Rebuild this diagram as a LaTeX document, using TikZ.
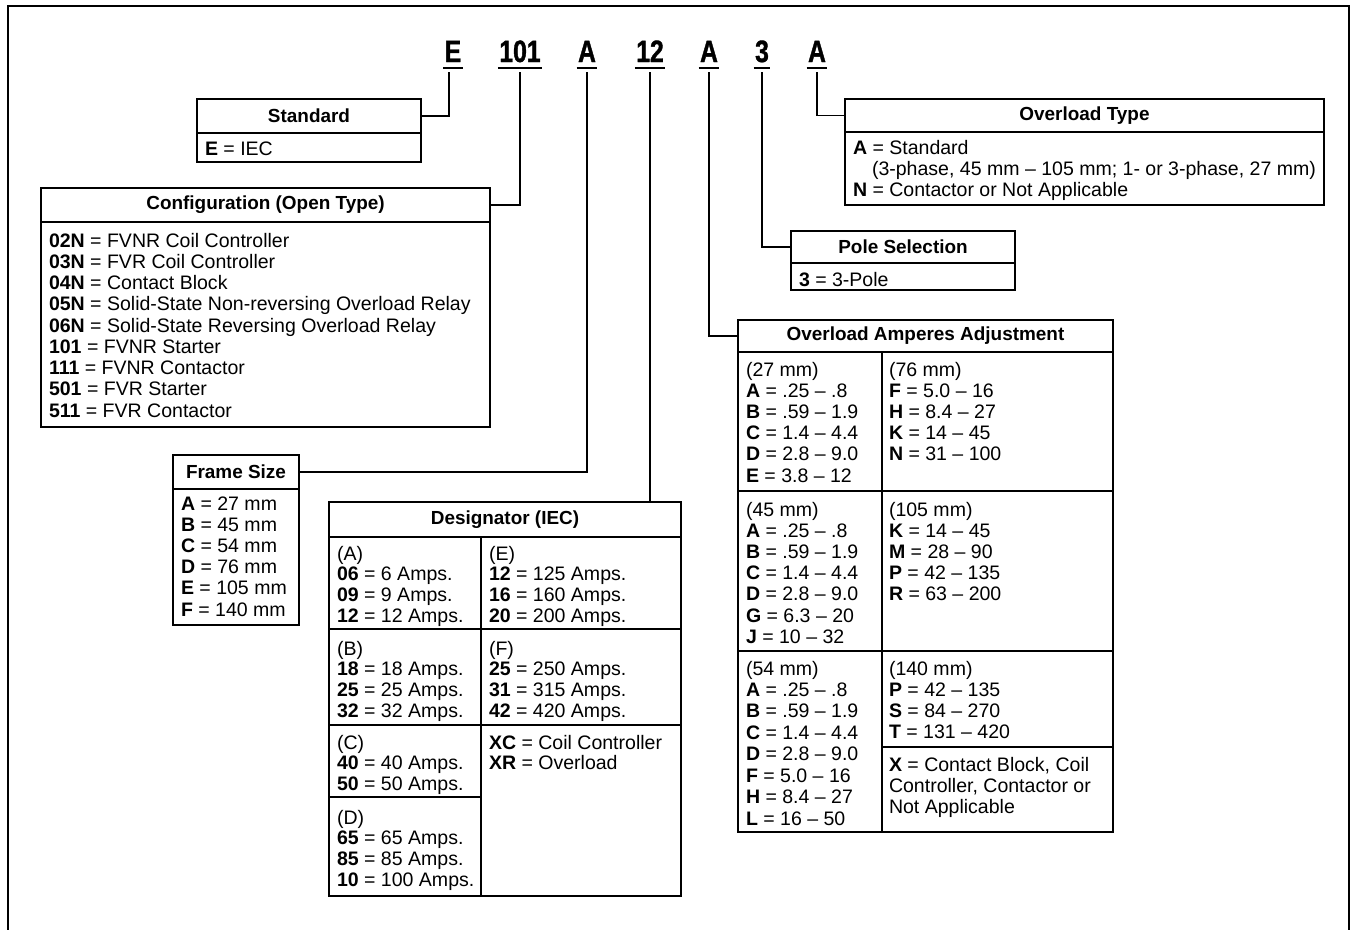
\documentclass[tikz,border=0pt]{standalone}
\usepackage{fontspec}
\setmainfont{Liberation Sans}
\newfontfamily\codefont[FakeStretch=0.8,BoldFeatures={FakeBold=1.2}]{Liberation Sans}
\usetikzlibrary{calc}
\tikzset{
  frameline/.style={line width=2bp},
  bx/.style={draw, line width=1.4bp, inner sep=0pt, outer sep=0pt, anchor=north west},
  hdr/.style={bx, font=\bfseries\fontsize{19}{21}\selectfont},
  txt/.style={inner sep=0pt, outer sep=0pt, anchor=base west, font=\fontsize{19.6}{21}\selectfont},
  codetxt/.style={inner sep=0pt, outer sep=0pt, anchor=base, font=\codefont\bfseries\fontsize{31}{31}\selectfont},
  uline/.style={line width=2.6bp},
  conn/.style={line width=1.3bp},
  divl/.style={line width=1.4bp},
}
\newcommand\txtlines[5]{%
  \foreach \t [count=\i] in {#5} {
    \node[txt] (#1-\i) at (#2, {#3+(\i-1)*#4}) {\t};
  }}
\begin{document}
\begin{tikzpicture}[x=1bp,y=-1bp]
\useasboundingbox (0,0) rectangle (1356,929);
% outer frame
\draw[frameline] (8,940) -- (8,6) -- (1349,6) -- (1349,940);

% code letters
\node[codetxt] (cE)   at (453,62) {E};
\node[codetxt] (c101) at (520,62) {101};
\node[codetxt] (cA1)  at (587,62) {A};
\node[codetxt] (c12)  at (650,62) {12};
\node[codetxt] (cA2)  at (709,62) {A};
\node[codetxt] (c3)   at (762,62) {3};
\node[codetxt] (cA3)  at (817,62) {A};
\foreach \n in {cE,c101,cA1,c12,cA2,c3,cA3}{
  \draw[uline] ($(\n.base west)+(-1.5,6)$) -- ($(\n.base east)+(1.5,6)$);
}

% Standard
\node[hdr, minimum width=224bp, minimum height=34bp] (stdH) at (197,99) {Standard};
\node[bx, minimum width=224bp, minimum height=29bp] (stdB) at (stdH.south west) {};
\txtlines{std}{205}{155}{21.25}{{\textbf{E} = IEC}}

% Configuration
\node[hdr, minimum width=449bp, minimum height=34bp] (cfgH) at (41,188) {Configuration (Open Type)};
\node[bx, minimum width=449bp, minimum height=205bp] (cfgB) at (cfgH.south west) {};
\txtlines{cfg}{49}{247}{21.25}{{\textbf{02N} = FVNR Coil Controller},{\textbf{03N} = FVR Coil Controller},{\textbf{04N} = Contact Block},{\textbf{05N} = Solid-State Non-reversing Overload Relay},{\textbf{06N} = Solid-State Reversing Overload Relay},{\textbf{101} = FVNR Starter},{\textbf{111} = FVNR Contactor},{\textbf{501} = FVR Starter},{\textbf{511} = FVR Contactor}}

% Frame Size
\node[hdr, minimum width=126bp, minimum height=34bp] (frmH) at (173,455) {Frame Size};
\node[bx, minimum width=126bp, minimum height=136bp] (frmB) at (frmH.south west) {};
\txtlines{frm}{181}{510}{21.2}{{\textbf{A} = 27 mm},{\textbf{B} = 45 mm},{\textbf{C} = 54 mm},{\textbf{D} = 76 mm},{\textbf{E} = 105 mm},{\textbf{F} = 140 mm}}

% Designator
\node[hdr, minimum width=352bp, minimum height=35bp] (desH) at (329,502) {Designator (IEC)};
\node[bx, minimum width=352bp, minimum height=359bp] (desB) at (desH.south west) {};
\draw[divl] (481,537) -- (481,896);
\draw[divl] (329,629) -- (681,629);
\draw[divl] (329,725) -- (681,725);
\draw[divl] (329,797) -- (481,797);
\txtlines{desA}{337}{560}{20.7}{(A),{\textbf{06} = 6 Amps.},{\textbf{09} = 9 Amps.},{\textbf{12} = 12 Amps.}}
\txtlines{desB}{337}{655}{20.7}{(B),{\textbf{18} = 18 Amps.},{\textbf{25} = 25 Amps.},{\textbf{32} = 32 Amps.}}
\txtlines{desC}{337}{749}{20.7}{(C),{\textbf{40} = 40 Amps.},{\textbf{50} = 50 Amps.}}
\txtlines{desD}{337}{824}{20.7}{(D),{\textbf{65} = 65 Amps.},{\textbf{85} = 85 Amps.},{\textbf{10} = 100 Amps.}}
\txtlines{desE}{489}{560}{20.7}{(E),{\textbf{12} = 125 Amps.},{\textbf{16} = 160 Amps.},{\textbf{20} = 200 Amps.}}
\txtlines{desF}{489}{655}{20.7}{(F),{\textbf{25} = 250 Amps.},{\textbf{31} = 315 Amps.},{\textbf{42} = 420 Amps.}}
\txtlines{desX}{489}{749}{20.7}{{\textbf{XC} = Coil Controller},{\textbf{XR} = Overload}}

% Overload Amperes Adjustment
\node[hdr, minimum width=375bp, minimum height=32bp] (oaaH) at (738,320) {Overload Amperes Adjustment};
\node[bx, minimum width=375bp, minimum height=480bp] (oaaB) at (oaaH.south west) {};
\draw[divl] (882,352) -- (882,832);
\draw[divl] (738,491) -- (1113,491);
\draw[divl] (738,651) -- (1113,651);
\draw[divl] (882,747) -- (1113,747);
\txtlines{oa27}{746}{376}{21.2}{(27 mm),{\textbf{A} = .25 – .8},{\textbf{B} = .59 – 1.9},{\textbf{C} = 1.4 – 4.4},{\textbf{D} = 2.8 – 9.0},{\textbf{E} = 3.8 – 12}}
\txtlines{oa45}{746}{516}{21.2}{(45 mm),{\textbf{A} = .25 – .8},{\textbf{B} = .59 – 1.9},{\textbf{C} = 1.4 – 4.4},{\textbf{D} = 2.8 – 9.0},{\textbf{G} = 6.3 – 20},{\textbf{J} = 10 – 32}}
\txtlines{oa54}{746}{675}{21.45}{(54 mm),{\textbf{A} = .25 – .8},{\textbf{B} = .59 – 1.9},{\textbf{C} = 1.4 – 4.4},{\textbf{D} = 2.8 – 9.0},{\textbf{F} = 5.0 – 16},{\textbf{H} = 8.4 – 27},{\textbf{L} = 16 – 50}}
\txtlines{oa76}{889}{376}{21.2}{(76 mm),{\textbf{F} = 5.0 – 16},{\textbf{H} = 8.4 – 27},{\textbf{K} = 14 – 45},{\textbf{N} = 31 – 100}}
\txtlines{oa105}{889}{516}{21.2}{(105 mm),{\textbf{K} = 14 – 45},{\textbf{M} = 28 – 90},{\textbf{P} = 42 – 135},{\textbf{R} = 63 – 200}}
\txtlines{oa140}{889}{675}{21.2}{(140 mm),{\textbf{P} = 42 – 135},{\textbf{S} = 84 – 270},{\textbf{T} = 131 – 420}}
\txtlines{oaX}{889}{771}{21.4}{{\textbf{X} = Contact Block, Coil},{Controller, Contactor or},{Not Applicable}}

% Overload Type
\node[hdr, minimum width=479bp, minimum height=33bp] (otH) at (845,99) {Overload Type};
\node[bx, minimum width=479bp, minimum height=73bp] (otB) at (otH.south west) {};
\txtlines{otA}{853}{154}{21.25}{{\textbf{A} = Standard}}
\txtlines{otS}{872}{175}{21.25}{{(3-phase, 45 mm – 105 mm; 1- or 3-phase, 27 mm)}}
\txtlines{otN}{853}{196}{21.25}{{\textbf{N} = Contactor or Not Applicable}}

% Pole Selection
\node[hdr, minimum width=224bp, minimum height=32bp] (polH) at (791,231) {Pole Selection};
\node[bx, minimum width=224bp, minimum height=27bp] (polB) at (polH.south west) {};
\txtlines{pol}{799}{286}{21.25}{{\textbf{3} = 3-Pole}}

% connectors
\draw[conn] ($(cE.base)+(-4,10)$) |- (stdH.east);
\draw[conn] ($(c101.base)+(0,10)$) |- (cfgH.east);
\draw[conn] ($(cA1.base)+(0,10)$) |- (frmH.east);
\draw[conn] ($(c12.base)+(0,10)$) -- (c12.base |- desH.north);
\draw[conn] ($(cA2.base)+(0,10)$) |- (oaaH.west);
\draw[conn] ($(c3.base)+(0,10)$) |- (polH.west);
\draw[conn] ($(cA3.base)+(0,10)$) |- (otH.west);
\end{tikzpicture}
\end{document}
